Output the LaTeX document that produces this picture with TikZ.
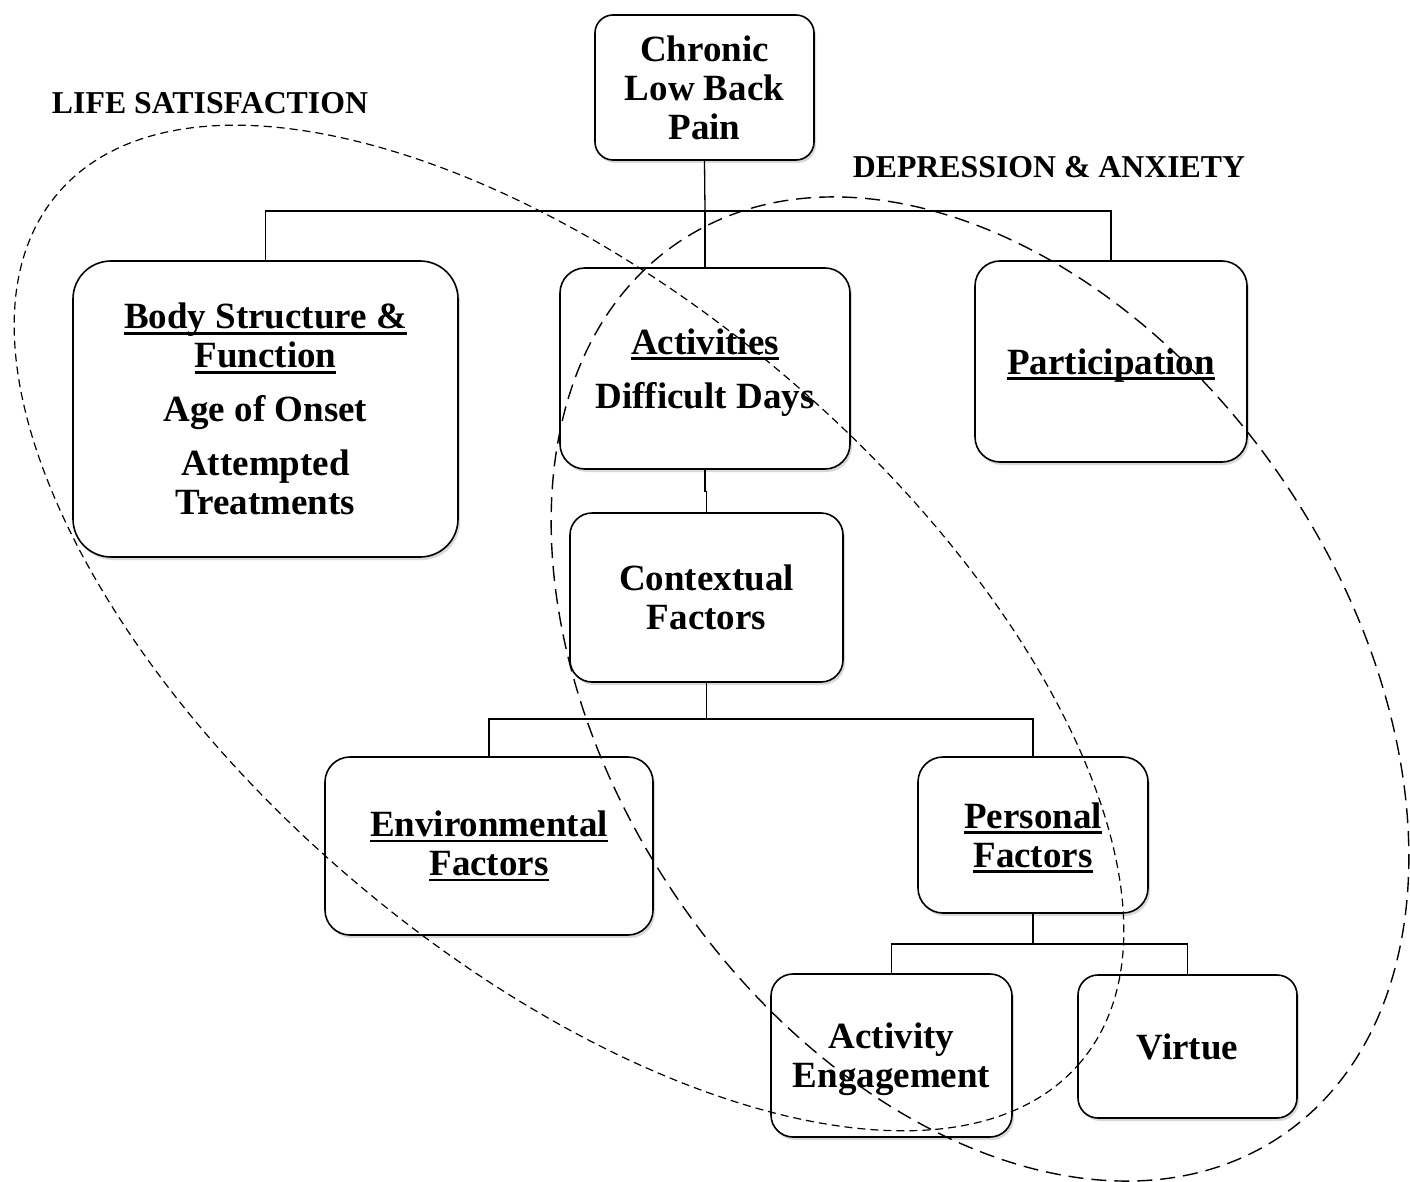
\documentclass[tikz,border=0pt]{standalone}
\usepackage{fontspec}
\setmainfont{Liberation Serif}
\usetikzlibrary{shadows}
\newsavebox\ulsave
\newcommand\myul[1]{\sbox\ulsave{#1}\rlap{\rule[-6pt]{\wd\ulsave}{2.8pt}}\usebox\ulsave}
\newcommand\topstrut[1]{\rule{0pt}{#1}}
\begin{document}
\begin{tikzpicture}[x=1pt,y=-1pt,
  box/.style={draw, line width=1.6pt, fill=white, rounded corners=#1, align=center, inner sep=0pt,
     font=\fontsize{37}{39}\selectfont\bfseries,
     drop shadow={shadow xshift=2pt, shadow yshift=-3pt, opacity=0.15, fill=black}},
  box/.default=24pt,
  conn/.style={line width=1.3pt},
  lbl/.style={font=\fontsize{31.8}{36}\selectfont\bfseries, inner sep=0pt},
  lsring/.style={dash pattern=on 8pt off 5pt, line width=1.2pt},
  daring/.style={dash pattern=on 15pt off 8pt, line width=1.4pt}]
\fill[white] (0,0) rectangle (1410,1182);
\useasboundingbox (0,0) rectangle (1410,1182);

\node[box=18pt, minimum width=219pt, minimum height=145pt] (clbp) at (704.5,87.5) {Chronic\\Low Back\\Pain};
\node[box=38pt, minimum width=385pt, minimum height=296pt] (body) at (265.5,409) {\myul{Body Structure \&}\\\myul{Function}\\[15pt]Age of Onset\\[15pt]Attempted\\Treatments};
\node[box=25pt, minimum width=290pt, minimum height=201pt] (act) at (705,368.5) {\topstrut{33pt}\myul{Activities}\\[15pt]Difficult Days};
\node[box=25pt, minimum width=272pt, minimum height=201pt] (part) at (1111,361.5) {\topstrut{33pt}\myul{Participation}};
\node[box=22pt, minimum width=273pt, minimum height=169pt] (ctx) at (706.5,597.5) {Contextual\\Factors};
\node[box=25pt, minimum width=328pt, minimum height=178pt] (env) at (489,846) {\myul{Environmental}\\\myul{Factors}};
\node[box=25pt, minimum width=230pt, minimum height=156pt] (pers) at (1033,835) {\topstrut{31pt}\myul{Personal}\\\myul{Factors}};
\node[box=22pt, minimum width=241pt, minimum height=163pt] (eng) at (891.5,1055.5) {\topstrut{33pt}Activity\\Engagement};
\node[box=20pt, minimum width=219pt, minimum height=143pt] (virt) at (1187.5,1046.5) {Virtue};

\coordinate (bus1) at (705,211);
\draw[conn] (clbp.south) -- (bus1);
\draw[conn] (body.north) |- (bus1) -| (part.north);
\draw[conn] (bus1) -- (act.north);
\draw[conn] (act.south) -- ++(0,22) -| (ctx.north);
\coordinate (bus2) at (706.5,719);
\draw[conn] (ctx.south) -- (bus2);
\draw[conn] (env.north) |- (bus2) -| (pers.north);
\coordinate (bus3) at (1033,944);
\draw[conn] (pers.south) -- (bus3);
\draw[conn] (eng.north) |- (bus3) -| (virt.north);

\node[lbl] (ls) at (210,103) {LIFE SATISFACTION};
\node[lbl] (da) at (1049,167) {DEPRESSION \& ANXIETY};

\draw[lsring, shift={(569,628)}, rotate=-40.35] (0,0) ellipse [x radius=671, y radius=332];
\draw[daring, shift={(980,689)}, rotate=-56] (0,0) ellipse [x radius=539, y radius=368];
\end{tikzpicture}
\end{document}
